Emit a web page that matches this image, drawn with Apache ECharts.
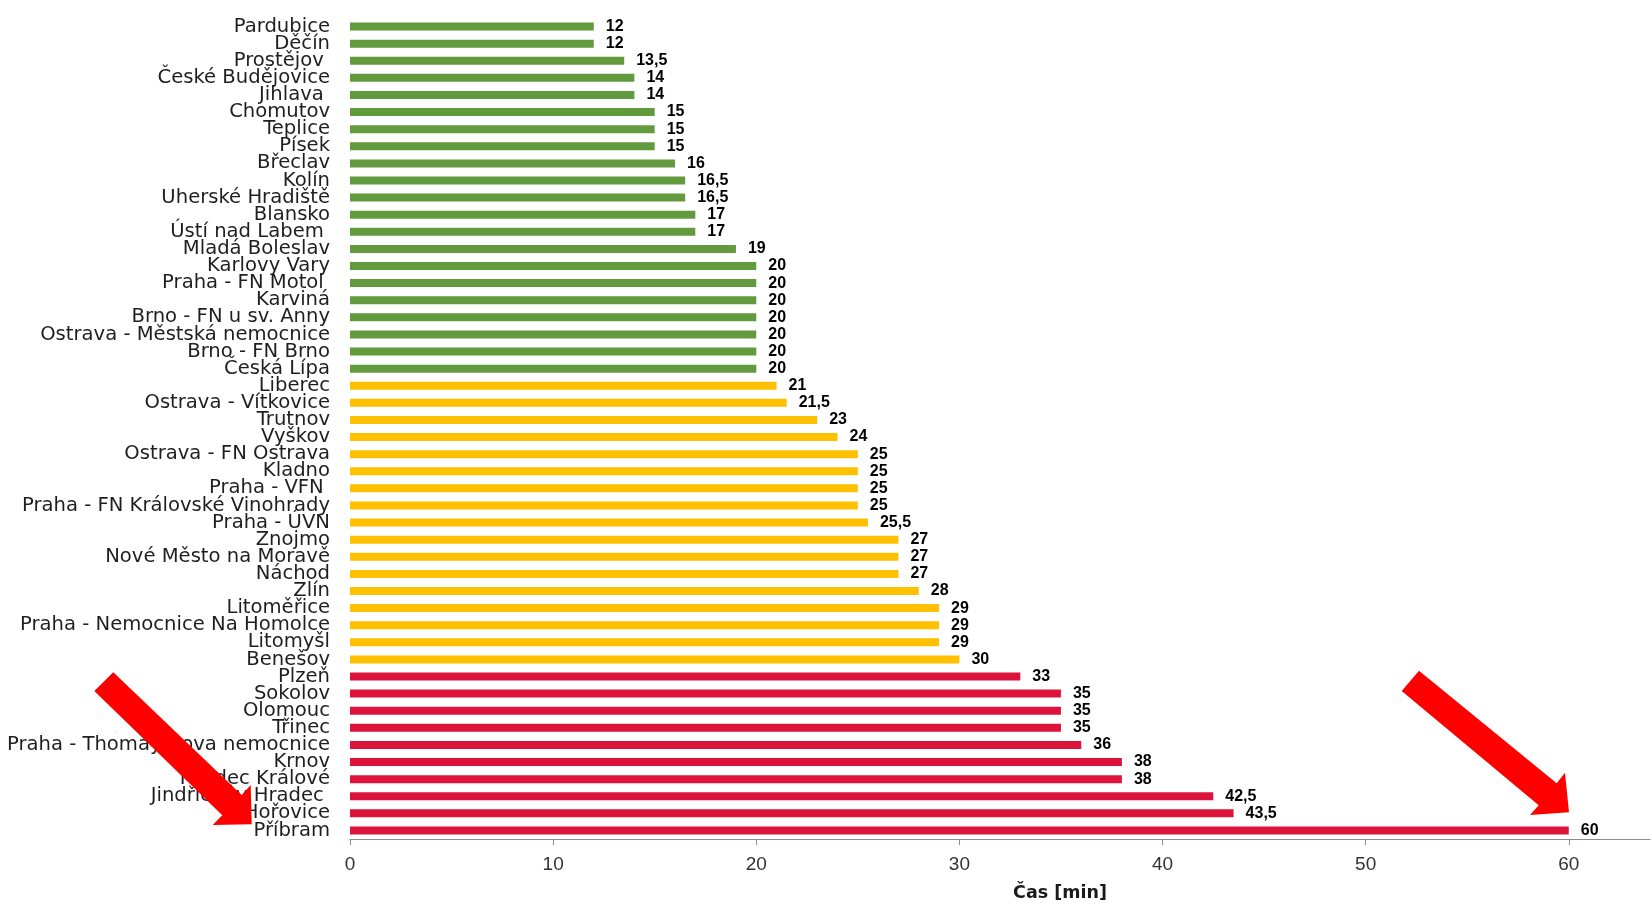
<!DOCTYPE html>
<html>
<head>
<meta charset="utf-8">
<script src="https://cdn.jsdelivr.net/npm/echarts@6/dist/echarts.min.js"></script>
<style>
html,body{margin:0;padding:0;background:#fff;}
#chart{width:1652px;height:924px;}
</style>
</head>
<body>
<div id="chart"></div>
<script>
// Categories (top to bottom)
const categories = [
  'Pardubice','Děčín','Prostějov ','České Budějovice','Jihlava ','Chomutov','Teplice','Písek',
  'Břeclav','Kolín','Uherské Hradiště','Blansko','Ústí nad Labem ','Mladá Boleslav','Karlovy Vary',
  'Praha - FN Motol ','Karviná','Brno - FN u sv. Anny','Ostrava - Městská nemocnice','Brno - FN Brno',
  'Česká Lípa','Liberec','Ostrava - Vítkovice','Trutnov','Vyškov','Ostrava - FN Ostrava','Kladno',
  'Praha - VFN ','Praha - FN Královské Vinohrady','Praha - ÚVN','Znojmo','Nové Město na Moravě',
  'Náchod','Zlín','Litoměřice','Praha - Nemocnice Na Homolce','Litomyšl','Benešov','Plzeň','Sokolov',
  'Olomouc','Třinec','Praha - Thomayerova nemocnice','Krnov','Hradec Králové','Jindřichův Hradec ',
  'Hořovice','Příbram'
];
// Time values [min]
const times = [
  12,12,13.5,14,14,15,15,15,
  16,16.5,16.5,17,17,19,20,
  20,20,20,20,20,
  20,21,21.5,23,24,25,25,
  25,25,25.5,27,27,
  27,28,29,29,29,30,33,35,
  35,35,36,38,38,42.5,
  43.5,60
];
// Colour group of each category: g = green, y = yellow, r = red
const groups = [
  'g','g','g','g','g','g','g','g',
  'g','g','g','g','g','g','g',
  'g','g','g','g','g',
  'g','y','y','y','y','y','y',
  'y','y','y','y','y',
  'y','y','y','y','y','y','r','r',
  'r','r','r','r','r','r',
  'r','r'
];
const groupColors = { g: '#629A3E', y: '#FFC000', r: '#DC143C' };
// X axis tick values
const xTicks = [0, 10, 20, 30, 40, 50, 60];
const xTitle = 'Čas [min]';

const chart = echarts.init(document.getElementById('chart'));

const barData = times.map((v, i) => ({
  value: v,
  itemStyle: { color: groupColors[groups[i]] }
}));

function arrow(points) {
  return {
    type: 'polygon',
    z: 100,
    shape: { points: points },
    style: { fill: '#FF0000' }
  };
}

chart.setOption({
  animation: false,
  backgroundColor: '#ffffff',
  grid: {
    left: 350, right: 2, top: 18, bottom: 85,
    containLabel: false,
    outerBoundsMode: 'none'
  },
  xAxis: {
    type: 'value',
    min: 0,
    max: 64,
    interval: 10,
    splitLine: { show: false },
    axisLine: { show: true, lineStyle: { color: '#8C8C8C', width: 1.2 } },
    axisTick: { show: true, length: 6, lineStyle: { color: '#8C8C8C' }, customValues: xTicks },
    axisLabel: {
      customValues: xTicks,
      margin: 16,
      fontSize: 19,
      fontFamily: 'Liberation Sans',
      color: '#333333'
    }
  },
  yAxis: {
    type: 'category',
    inverse: true,
    data: categories,
    axisLine: { show: false },
    axisTick: { show: false },
    splitLine: { show: false },
    axisLabel: {
      interval: 0,
      margin: 20,
      fontSize: 19.6,
      padding: [3, 0, 0, 0],
      fontFamily: 'DejaVu Sans',
      color: '#1f1f1f'
    }
  },
  series: [{
    type: 'bar',
    data: barData,
    barWidth: 8,
    label: {
      show: true,
      position: 'right',
      distance: 12,
      fontFamily: 'Liberation Sans',
      fontWeight: 'bold',
      fontSize: 16,
      color: '#000000',
      formatter: p => String(p.value).replace('.', ',')
    }
  }],
  graphic: [
    {
      type: 'text',
      x: 1060, y: 893,
      style: {
        text: xTitle,
        fontFamily: 'DejaVu Sans',
        fontWeight: 'bold',
        fontSize: 17.5,
        fill: '#1a1a1a',
        textAlign: 'center',
        textVerticalAlign: 'middle'
      }
    },
    arrow([[94.3,691],[113.3,672.3],[241.7,795],[250.7,785],[251.7,824.3],[212.7,825],[222.3,815.3]]),
    arrow([[1401.7,691],[1419,670.7],[1556.7,783.3],[1565,772.7],[1569,812.3],[1530,815],[1538.7,805.3]])
  ]
});
</script>
</body>
</html>
